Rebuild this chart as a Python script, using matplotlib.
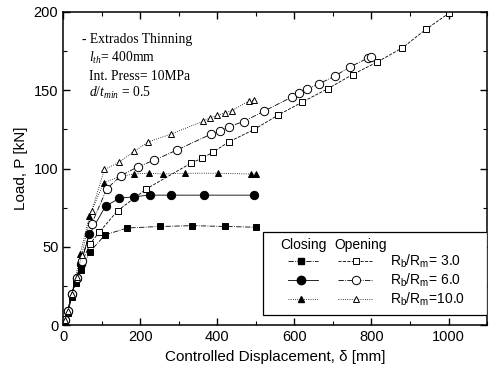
import matplotlib
matplotlib.use("Agg")
import matplotlib.pyplot as plt
from matplotlib.lines import Line2D
from matplotlib.patches import Rectangle
from matplotlib.ticker import MultipleLocator

plt.rcParams['font.family'] = ['Liberation Sans', 'DejaVu Sans']
plt.rcParams['mathtext.fontset'] = 'custom'
plt.rcParams['mathtext.rm'] = 'Liberation Serif'
plt.rcParams['mathtext.it'] = 'Liberation Serif:italic'
plt.rcParams['mathtext.sf'] = 'Liberation Sans'

# Closing mode
close3_x = [5, 12, 22, 32, 45, 70, 108, 165, 250, 335, 421, 500]
close3_y = [2, 8, 18, 27, 35, 47, 57.5, 62, 63, 63.5, 63, 62.5]
close6_x = [5, 12, 22, 35, 45, 68, 110, 146, 184, 224, 280, 366, 496]
close6_y = [3, 9, 20, 30, 39, 58, 76, 81, 82, 83, 83, 83, 83]
close10_x = [5, 12, 22, 32, 44, 68, 105, 148, 183, 222, 259, 317, 401, 488, 501]
close10_y = [3, 9, 20, 30, 45.5, 69.5, 91, 95, 96.5, 97, 96.5, 97, 97, 96.5, 96.5]

# Opening mode
open3_x = [5, 12, 22, 35, 48, 70, 94, 141, 216, 332, 360, 389, 430, 496,
           557, 621, 687, 751, 815, 880, 942, 1000]
open3_y = [3, 9, 20, 30, 40, 52, 59.5, 73, 87, 103.5, 106.5, 110.5, 117, 125,
           134, 142.5, 151, 160, 168, 177, 189, 199]
open6_x = [5, 12, 22, 35, 48, 74, 113, 150, 193, 236, 295, 384, 406, 430, 468,
           520, 594, 611, 633, 663, 705, 745, 791, 800]
open6_y = [3, 9, 20, 30, 41, 64.7, 87, 95.5, 101, 105.3, 111.8, 122, 124, 126.7, 130,
           136.5, 145.7, 148, 150.6, 154, 159, 165, 170.5, 171.5]
open10_x = [5, 12, 22, 35, 48, 74, 107, 145, 184, 221, 280, 364, 382, 400, 420, 438, 481, 494]
open10_y = [3, 9, 20, 31, 45, 73, 99.4, 104, 111, 117, 122, 130.3, 132.5, 134, 135.5, 137,
            143, 143.5]

ratio_labels = ['3.0', '6.0', '10.0']

fig = plt.figure(figsize=(4.9, 3.72), dpi=100)
ax = fig.add_axes([0.129, 0.126, 0.865, 0.842])

lw = 0.6
ms = 5
series = [
    (close3_x, close3_y, 's', 'k', '-.'),
    (close6_x, close6_y, 'o', 'k', '-'),
    (close10_x, close10_y, '^', 'k', ':'),
    (open3_x, open3_y, 's', 'white', '--'),
    (open6_x, open6_y, 'o', 'white', '-.'),
    (open10_x, open10_y, '^', 'white', ':'),
]
for x, y, m, fc, ls in series:
    ax.plot(x, y, color='k', lw=lw, ls=ls, marker=m, ms=ms if m != 'o' else ms + 1,
            mfc=fc, mec='k', mew=0.7)

ax.set_xlim(0, 1100)
ax.set_ylim(0, 200)
ax.xaxis.set_major_locator(MultipleLocator(200))
ax.xaxis.set_minor_locator(MultipleLocator(100))
ax.yaxis.set_major_locator(MultipleLocator(50))
ax.yaxis.set_minor_locator(MultipleLocator(25))
ax.tick_params(which='both', direction='in', top=True, right=True, labelsize=10.5)
ax.tick_params(which='major', length=5, width=1)
ax.tick_params(which='minor', length=3, width=0.8)
for s in ax.spines.values():
    s.set_linewidth(1.1)

ax.set_xlabel('Controlled Displacement, δ [mm]', fontsize=11, labelpad=4)
ax.set_ylabel('Load, P [kN]', fontsize=11, labelpad=4)

# annotation
tfs = 9.8
tx = 0.045
ax.text(tx, 0.913, '- Extrados Thinning', transform=ax.transAxes, family='Liberation Serif',
        fontsize=tfs, va='center')
ax.text(tx + 0.015, 0.853, r'$l_{th}$= 400mm', transform=ax.transAxes, family='Liberation Serif',
        fontsize=tfs, va='center')
ax.text(tx + 0.015, 0.795, 'Int. Press= 10MPa', transform=ax.transAxes, family='Liberation Serif',
        fontsize=tfs, va='center')
ax.text(tx + 0.015, 0.74, r'$d/t_{min}$ = 0.5', transform=ax.transAxes, family='Liberation Serif',
        fontsize=tfs, va='center')

# legend box
bx0, by0, bx1, by1 = 0.472, 0.032, 0.999, 0.298
ax.add_patch(Rectangle((bx0, by0), bx1 - bx0, by1 - by0, transform=ax.transAxes,
                       fill=True, fc='white', ec='k', lw=0.9, zorder=5))
lfs = 10
ax.text(0.512, 0.256, 'Closing', transform=ax.transAxes, fontsize=lfs, va='center', zorder=6)
ax.text(0.639, 0.256, 'Opening', transform=ax.transAxes, fontsize=lfs, va='center', zorder=6)
rows = [0.205, 0.144, 0.083]
cm = ['s', 'o', '^']
cls = ['-.', '-', ':']
ols = ['--', '-.', ':']
for i, yy in enumerate(rows):
    ax.add_line(Line2D([0.531, 0.601], [yy, yy], transform=ax.transAxes, color='k', lw=lw,
                       ls=cls[i], zorder=6))
    ax.add_line(Line2D([0.561], [yy], transform=ax.transAxes, marker=cm[i], ms=ms if i != 1 else ms + 1,
                       mfc='k', mec='k', color='k', zorder=7))
    ax.add_line(Line2D([0.649, 0.731], [yy, yy], transform=ax.transAxes, color='k', lw=lw,
                       ls=ols[i], zorder=6))
    ax.add_line(Line2D([0.691], [yy], transform=ax.transAxes, marker=cm[i], ms=ms if i != 1 else ms + 1,
                       mfc='white', mec='k', mew=0.7, color='k', zorder=7))
    lab = ratio_labels[i]
    sep = '= ' if len(lab) == 3 else '='
    ax.text(0.771, yy, r'$\mathsf{R_b/R_m}$' + sep + lab, transform=ax.transAxes,
            fontsize=lfs, va='center', zorder=6)

fig.savefig('out.png', dpi=100)
